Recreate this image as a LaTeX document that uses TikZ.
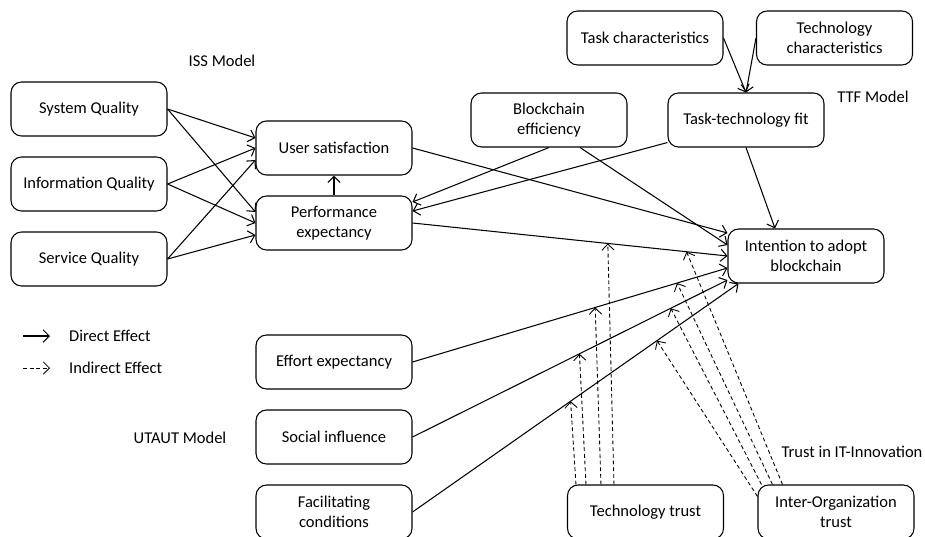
\documentclass[tikz,border=0pt]{standalone}
\usepackage{fontspec}
\setmainfont{Carlito}
\usetikzlibrary{shapes,arrows,arrows.meta,positioning,calc}

\tikzset{
    factor/.style={draw, rectangle, rounded corners=6pt, minimum width=3.12cm, minimum height=1.08cm, align=center, line width=0.6pt},
    label/.style={align=left},
    direct/.style={-{Straight Barb[length=3.5pt,width=7pt]}, line width=0.6pt},
    indirect/.style={-{Straight Barb[length=3.5pt,width=7pt]}, dash pattern=on 2.2pt off 1.6pt, line width=0.5pt}
}

\begin{document}
\begin{tikzpicture}[font=\fontsize{9.4}{11.2}\selectfont]
    \useasboundingbox (0,0) rectangle (18.5,-10.74);

    % ISS model
    \node (issmodel) at (4.44,-1.22) {ISS Model};
    \node[factor] (sysq) at (1.78,-2.18) {System Quality};
    \node[factor] (infoq) at (1.78,-3.68) {Information Quality};
    \node[factor] (servq) at (1.78,-5.18) {Service Quality};
    \node[factor] (usersat) at (6.68,-2.96) {User satisfaction};
    \node[factor] (perfexp) at (6.68,-4.46) {Performance\\expectancy};

    % TTF model
    \node[factor] (taskchar) at (12.90,-0.76) {Task characteristics};
    \node[factor] (techchar) at (16.69,-0.76) {Technology\\characteristics};
    \node[factor] (ttfit) at (14.92,-2.40) {Task-technology fit};
    \node (ttfmodel) at (17.46,-1.94) {TTF Model};
    \node[factor] (blockeff) at (10.98,-2.40) {Blockchain\\efficiency};

    % Outcome
    \node[factor] (intent) at (16.12,-5.12) {Intention to adopt\\blockchain};

    % UTAUT model
    \node[factor] (effort) at (6.68,-7.24) {Effort expectancy};
    \node[factor] (social) at (6.68,-8.74) {Social influence};
    \node[factor] (facil) at (6.68,-10.24) {Facilitating\\conditions};
    \node (utautmodel) at (3.60,-8.76) {UTAUT Model};

    % Trust in IT-Innovation
    \node[factor] (techtrust) at (12.91,-10.24) {Technology trust};
    \node[factor] (iotrust) at (16.72,-10.24) {Inter-Organization\\trust};
    \node (trustlabel) at (17.04,-9.04) {Trust in IT-Innovation};

    % Legend
    \coordinate (dirA) at (0.46,-6.72);
    \coordinate (dirB) at (1.0,-6.72);
    \coordinate (indA) at (0.46,-7.36);
    \coordinate (indB) at (1.0,-7.36);
    \draw[direct] (dirA) -- (dirB);
    \draw[indirect] (indA) -- (indB);
    \node[label, anchor=west] (dirtext) at (1.26,-6.72) {Direct Effect};
    \node[label, anchor=west] (indtext) at (1.26,-7.36) {Indirect Effect};

    % ISS arrows
    \draw[direct] (sysq.east) -- ([yshift=0.2cm]usersat.west);
    \draw[direct] (sysq.east) -- ([yshift=0.22cm]perfexp.west);
    \draw[direct] (infoq.east) -- (usersat.west);
    \draw[direct] (infoq.east) -- (perfexp.west);
    \draw[direct] (servq.east) -- ([yshift=-0.24cm]usersat.west);
    \draw[direct] (servq.east) -- ([yshift=-0.24cm]perfexp.west);
    \draw[direct] (perfexp) -- (usersat);

    % TTF arrows
    \draw[direct] (taskchar.east) -- (ttfit.north);
    \draw[direct] (techchar.west) -- (ttfit.north);
    \draw[direct] ([yshift=0.1cm]ttfit.south west) -- ([yshift=0.24cm]perfexp.east);
    \draw[direct] (blockeff.south) -- ([yshift=0.42cm]perfexp.east);
    \draw[direct] (ttfit.south) -- ([xshift=-0.62cm]intent.north);
    \draw[direct] ([xshift=0.62cm]blockeff.south) -- ([yshift=0.22cm]intent.west);

    % Direct effects on intention
    \draw[direct] (usersat.east) -- ([yshift=0.46cm]intent.west);
    \draw[direct] (perfexp.east) -- (intent.west)
        coordinate[pos=0.62] (peA) coordinate[pos=0.87] (peB);
    \draw[direct] (effort.east) -- ([yshift=-0.24cm]intent.west)
        coordinate[pos=0.58] (efA) coordinate[pos=0.84] (efB);
    \draw[direct] (social.east) -- ([yshift=-0.48cm]intent.west)
        coordinate[pos=0.53] (soA) coordinate[pos=0.82] (soB);
    \draw[direct] (facil.east) -- ([xshift=0.22cm]intent.south west)
        coordinate[pos=0.485] (faA) coordinate[pos=0.75] (faB);

    % Indirect effects (technology trust)
    \draw[indirect] ([xshift=0.18cm]techtrust.north west) -- (faA);
    \draw[indirect] ([xshift=0.38cm]techtrust.north west) -- (soA);
    \draw[indirect] ([xshift=0.68cm]techtrust.north west) -- (efA);
    \draw[indirect] ([xshift=0.94cm]techtrust.north west) -- (peA);

    % Indirect effects (inter-organization trust)
    \draw[indirect] ([yshift=-0.24cm]iotrust.north west) -- (faB);
    \draw[indirect] ([xshift=0.08cm]iotrust.north west) -- (soB);
    \draw[indirect] ([xshift=0.3cm]iotrust.north west) -- (efB);
    \draw[indirect] ([xshift=0.5cm]iotrust.north west) -- (peB);
\end{tikzpicture}
\end{document}
